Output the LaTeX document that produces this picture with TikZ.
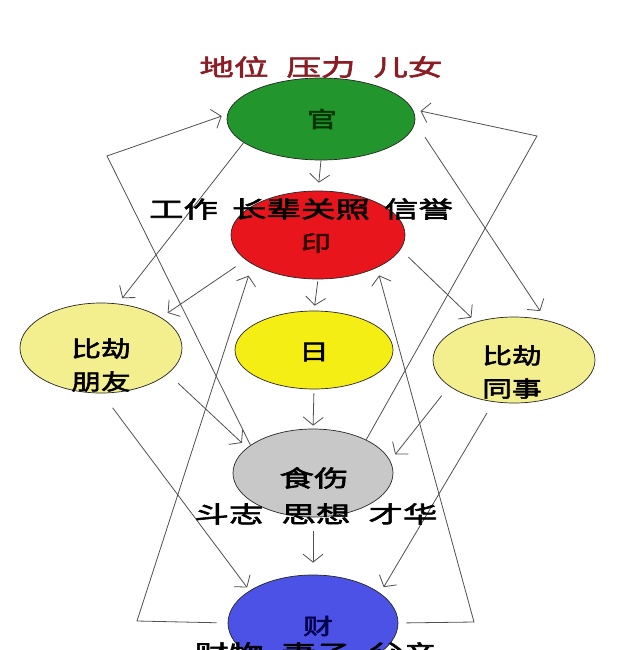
\documentclass[tikz,border=0pt]{standalone}
\usepackage{fontspec}
\usepackage{tikz}
\usetikzlibrary{arrows.meta, shapes.geometric}
\newfontfamily\cjk[FakeStretch=1.35,FakeBold=2.6]{Noto Sans CJK SC}
\newfontfamily\cjkw[FakeStretch=1.5,FakeBold=2.6]{Noto Sans CJK SC}
\definecolor{guangreen}{RGB}{34,150,44}
\definecolor{yinred}{RGB}{232,22,28}
\definecolor{riyellow}{RGB}{245,238,20}
\definecolor{bjyellow}{RGB}{243,238,142}
\definecolor{ssgray}{RGB}{200,200,200}
\definecolor{caiblue}{RGB}{76,82,230}
\definecolor{topred}{RGB}{140,28,36}
\definecolor{linegray}{RGB}{80,80,80}
\tikzset{
  elps/.style={ellipse, draw=black!85, line width=0.7pt, inner sep=0pt},
  lbl/.style={font=\cjk\fontsize{22}{33}\selectfont, align=center, inner sep=0pt},
  rowlbl/.style={font=\cjkw\fontsize{23}{33}\selectfont, align=center, inner sep=0pt},
  link/.style={draw=linegray, line width=0.8pt, -{Straight Barb[length=8pt,width=20pt]}},
}
\begin{document}
\begin{tikzpicture}[x=1pt,y=-1pt]
\useasboundingbox (0,0) rectangle (630,650);
\clip (0,0) rectangle (630,650);
\fill[white] (0,0) rectangle (630,650);

\node[elps, fill=guangreen, minimum width=188pt, minimum height=82pt] (guan) at (321,119) {};
\node[elps, fill=yinred, minimum width=174pt, minimum height=88pt] (yin) at (318,235) {};
\node[elps, fill=riyellow, minimum width=158pt, minimum height=78pt] (ri) at (314,350) {};
\node[elps, fill=bjyellow, minimum width=162pt, minimum height=90pt] (py) at (101,348) {};
\node[elps, fill=bjyellow, minimum width=162pt, minimum height=86pt] (ts) at (514,360) {};
\node[elps, fill=ssgray, minimum width=160pt, minimum height=88pt] (ss) at (313,473) {};
\node[elps, fill=caiblue, minimum width=170pt, minimum height=96pt] (cai) at (313,623) {};

\coordinate (lt) at (107,156);
\coordinate (lb) at (137,621);
\coordinate (rt) at (537,136);
\coordinate (rb) at (474,622);

\draw[link, shorten >=8pt] (guan.south) -- (yin.north);
\draw[link, shorten <=2pt, shorten >=5pt] (yin.south) -- (ri.north);
\draw[link, shorten <=4pt, shorten >=3pt] (ri.south) -- (ss.north);
\draw[link, shorten <=14pt, shorten >=12pt] (ss.south) -- (cai.north);

\draw[link, shorten >=6pt] (ss.156) -- (lt) -- (guan.177);
\draw[link, shorten >=8pt] (ss.32) -- (rt) -- (guan.6);
\draw[link, shorten <=11pt, shorten >=12pt] (cai.west) -- (lb) -- (yin.204);
\draw[link, shorten <=8pt, shorten >=8pt] (cai.east) -- (rb) -- (yin.331);

\draw[link, shorten >=7pt] (guan.197) -- (py.69);
\draw[link, shorten <=18pt, shorten >=11pt] (guan.358) -- (ts.51);
\draw[link, shorten <=12pt, shorten >=8pt] (yin.199) -- (py.27);
\draw[link, shorten <=11pt, shorten >=6pt] (yin.350) -- (ts.135);
\draw[link, shorten <=14pt, shorten >=7pt] (py.339) -- (ss.159);
\draw[link, shorten <=12pt, shorten >=8pt] (ts.202) -- (ss.9);
\draw[link, shorten <=18pt, shorten >=4pt] (py.271) -- (cai.153);
\draw[link, shorten <=13pt, shorten >=7pt] (ts.244) -- (cai.24);

\node[rowlbl, text=topred] (guantop) at (321,67) {地位\hspace{18pt}压力\hspace{18pt}儿女};
\node[rowlbl] (yintop) at (301,209) {工作\hspace{14pt}长辈关照\hspace{14pt}信誉};
\node[rowlbl] (ssbot) at (316,514) {斗志\hspace{18pt}思想\hspace{18pt}才华};
\node[rowlbl] (caibot) at (316,653) {财物\hspace{18pt}妻子\hspace{18pt}父亲};

\node[lbl, text=black!80!green] (guantxt) at (322,119) {官};
\node[lbl, text=black!80!red] (yintxt) at (316,243) {印};
\node[lbl] (ritxt) at (314,352) {日};
\node[lbl] (pytxt) at (101,365) {比劫\\朋友};
\node[lbl] (tstxt) at (512,372) {比劫\\同事};
\node[rowlbl] (sstxt) at (314,478) {食伤};
\node[lbl, text=black!70!blue] (caitxt) at (318,626) {财};
\end{tikzpicture}
\end{document}
